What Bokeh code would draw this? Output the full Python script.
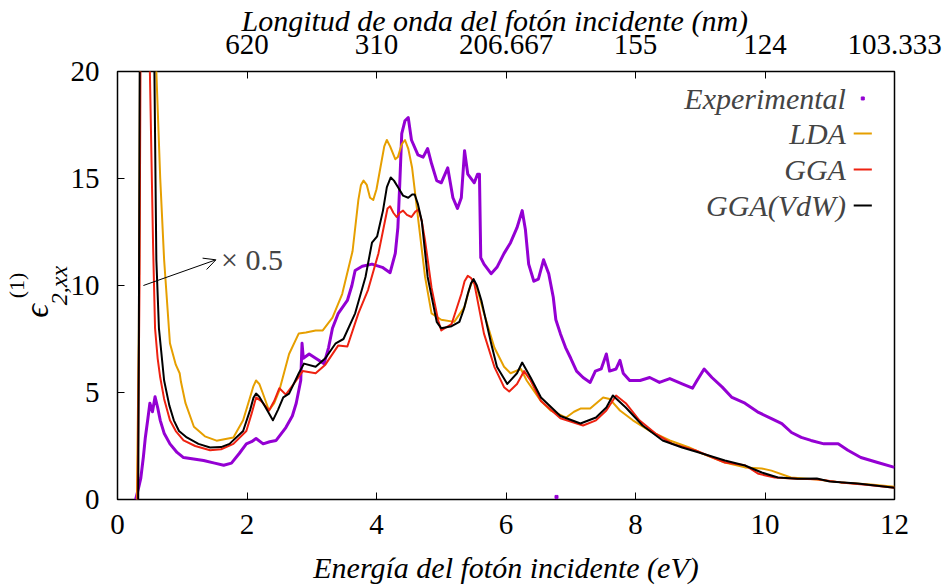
from bokeh.plotting import figure
from bokeh.models import (Range1d, LinearAxis, FixedTicker, Label, Arrow, OpenHead)
from bokeh.embed import file_html
from bokeh.resources import INLINE

# --- photon energy (eV) vs epsilon_2,xx ---------------------------------
exp_x = [0.28, 0.33, 0.36, 0.40, 0.43, 0.47, 0.50, 0.54, 0.58, 0.62,
         0.66, 0.72, 0.81, 0.92, 1.02, 1.15, 1.33, 1.5, 1.64, 1.76,
         1.88, 1.99, 2.07, 2.14, 2.25, 2.35, 2.45, 2.6, 2.7, 2.76,
         2.83, 2.85, 2.87, 2.96, 3.06, 3.19, 3.26, 3.32, 3.41, 3.55,
         3.62, 3.67, 3.78, 3.93, 4.09, 4.21, 4.29, 4.33, 4.36, 4.39,
         4.44, 4.49, 4.54, 4.64, 4.72, 4.79, 4.85, 4.93, 5.0, 5.1,
         5.18, 5.25, 5.31, 5.36, 5.41, 5.51, 5.56, 5.59, 5.61, 5.66,
         5.77, 5.86, 5.97, 6.07, 6.17, 6.25, 6.3, 6.35, 6.43, 6.5,
         6.58, 6.66, 6.73, 6.77, 6.84, 6.92, 7.0, 7.09, 7.19, 7.3,
         7.38, 7.47, 7.55, 7.6, 7.7, 7.76, 7.81, 7.91, 8.07, 8.22,
         8.37, 8.53, 8.72, 8.88, 8.95, 9.06, 9.18, 9.34, 9.49, 9.69,
         9.9, 10.1, 10.26, 10.41, 10.56, 10.71, 10.91, 11.13, 11.28, 11.48,
         11.74, 12.0]
exp_y = [0, 0.6, 1.0, 2.0, 2.9, 3.8, 4.5, 4.1, 4.8, 4.3,
         3.7, 3.1, 2.6, 2.2, 1.96, 1.9, 1.82, 1.7, 1.6, 1.7,
         2.15, 2.6, 2.7, 2.85, 2.6, 2.7, 2.76, 3.36, 3.9, 4.5,
         5.56, 7.3, 6.6, 6.8, 6.6, 6.35, 7.1, 8.0, 8.7, 9.3,
         10.0, 10.7, 10.9, 11.0, 10.85, 10.6, 11.5, 12.7, 14.8, 17.1,
         17.7, 17.85, 16.8, 16.1, 16.0, 16.4, 15.7, 14.9, 14.8, 15.5,
         14.1, 13.6, 14.1, 16.3, 15.2, 14.8, 15.2, 15.2, 11.3, 11.0,
         10.55, 10.85, 11.5, 12.0, 12.7, 13.5, 12.6, 11.0, 10.2, 10.3,
         11.2, 10.55, 9.45, 8.4, 7.75, 7.1, 6.6, 6.0, 5.7, 5.47,
         6.0, 6.1, 6.8, 6.0, 6.1, 6.5, 5.9, 5.56, 5.56, 5.7,
         5.47, 5.65, 5.4, 5.2, 5.56, 6.1, 5.7, 5.25, 4.77, 4.5,
         4.07, 3.78, 3.55, 3.13, 2.9, 2.76, 2.6, 2.6, 2.3, 1.96,
         1.73, 1.5]
exp_stray_x = [6.78]
exp_stray_y = [0.12]

lda_x = [0.30, 0.33, 0.35, 0.38, 0.45, 0.55, 0.60, 0.66, 0.72, 0.81,
         0.90, 0.96, 0.98, 1.05, 1.18, 1.35, 1.53, 1.79, 1.94, 2.05,
         2.10, 2.14, 2.19, 2.24, 2.34, 2.42, 2.5, 2.65, 2.8, 2.91,
         3.06, 3.17, 3.32, 3.47, 3.63, 3.72, 3.76, 3.80, 3.85, 3.90,
         3.95, 4.0, 4.06, 4.12, 4.16, 4.21, 4.29, 4.33, 4.39, 4.44,
         4.49, 4.55, 4.64, 4.75, 4.85, 5.0, 5.2, 5.36, 5.43, 5.48,
         5.52, 5.56, 5.66, 5.82, 5.97, 6.07, 6.23, 6.32, 6.54, 6.69,
         6.93, 7.05, 7.15, 7.3, 7.5, 7.6, 7.76, 7.96, 8.22, 8.53,
         8.83, 9.03, 9.38, 9.69, 9.95, 10.1, 10.4, 10.8, 11.17, 11.63,
         12.0]
lda_y = [0, 8, 22, 40, 40, 28, 20, 15, 11.2, 7.3,
         6.3, 5.9, 5.5, 4.5, 3.4, 2.95, 2.75, 2.9, 3.7, 4.8,
         5.3, 5.56, 5.4, 5.0, 4.16, 4.5, 5.1, 6.8, 7.76, 7.8,
         7.9, 7.9, 8.5, 9.6, 11.6, 14.0, 14.7, 14.9, 14.7, 14.1,
         14.0, 14.5, 15.5, 16.5, 16.8, 16.5, 15.9, 16.0, 16.6, 16.8,
         16.4, 15.5, 13.2, 10.4, 8.7, 8.4, 8.3, 9.0, 9.8, 10.2,
         10.1, 9.8, 8.7, 7.1, 6.2, 5.9, 6.1, 5.56, 4.6, 4.16,
         3.83, 4.1, 4.25, 4.25, 4.77, 4.7, 4.16, 3.7, 3.2, 2.76,
         2.43, 2.15, 1.73, 1.5, 1.45, 1.35, 1.03, 0.93, 0.8, 0.7,
         0.6]

gga_x = [0.31, 0.34, 0.36, 0.40, 0.45, 0.50, 0.55, 0.58, 0.62, 0.66,
         0.72, 0.81, 0.90, 1.02, 1.2, 1.43, 1.6, 1.79, 1.99, 2.07,
         2.14, 2.22, 2.34, 2.42, 2.5, 2.6, 2.76, 2.86, 3.06, 3.21,
         3.41, 3.55, 3.72, 3.87, 4.03, 4.13, 4.17, 4.21, 4.26, 4.31,
         4.36, 4.41, 4.47, 4.54, 4.6, 4.65, 4.70, 4.75, 4.85, 4.95,
         5.0, 5.16, 5.31, 5.36, 5.41, 5.46, 5.51, 5.58, 5.66, 5.82,
         5.97, 6.05, 6.17, 6.28, 6.38, 6.54, 6.84, 7.19, 7.39, 7.55,
         7.7, 7.85, 8.06, 8.31, 8.57, 8.92, 9.38, 9.69, 9.9, 10.15,
         10.5, 10.8, 11.17, 11.6, 12.0]
gga_y = [0, 10, 24, 35, 32, 20, 11.8, 8.0, 6.6, 5.7,
         4.7, 3.7, 3.2, 2.76, 2.5, 2.3, 2.35, 2.6, 3.2, 4.0,
         4.77, 4.6, 4.16, 4.6, 5.2, 4.9, 5.56, 6.0, 5.9, 6.3,
         7.2, 7.15, 8.7, 9.8, 11.5, 13.0, 13.6, 13.7, 13.4, 13.2,
         13.4, 13.5, 13.3, 13.2, 13.45, 13.55, 13.0, 12.1, 9.9, 8.4,
         7.9, 8.2, 9.6, 10.2, 10.45, 10.35, 10.1, 9.0, 7.75, 6.2,
         5.25, 5.05, 5.4, 6.0, 5.56, 4.6, 3.8, 3.46, 3.7, 4.16,
         4.86, 4.5, 3.7, 3.08, 2.6, 2.3, 1.73, 1.6, 1.2, 1.03,
         0.97, 0.95, 0.8, 0.68, 0.55]

vdw_x = [0.32, 0.33, 0.345, 0.37, 0.45, 0.52, 0.57, 0.60, 0.64, 0.72,
         0.80, 0.87, 0.95, 1.07, 1.25, 1.43, 1.6, 1.73, 1.94, 2.05,
         2.10, 2.14, 2.19, 2.25, 2.4, 2.48, 2.56, 2.65, 2.8, 2.88,
         3.06, 3.21, 3.37, 3.49, 3.67, 3.83, 3.93, 4.01, 4.1, 4.16,
         4.22, 4.27, 4.33, 4.41, 4.49, 4.55, 4.59, 4.64, 4.7, 4.79,
         4.93, 5.0, 5.16, 5.28, 5.35, 5.41, 5.46, 5.5, 5.55, 5.62,
         5.77, 5.86, 6.02, 6.17, 6.25, 6.38, 6.54, 6.84, 7.15, 7.39,
         7.55, 7.65, 7.85, 8.11, 8.42, 8.72, 8.98, 9.38, 9.69, 9.95,
         10.2, 10.5, 10.8, 11.0, 11.43, 12.0]
vdw_y = [0, 8, 22, 40, 42, 30, 20, 11.2, 8.0, 5.56,
         4.4, 3.7, 3.2, 2.9, 2.6, 2.43, 2.45, 2.6, 3.2, 4.2,
         4.75, 4.95, 4.8, 4.5, 3.7, 4.2, 4.77, 4.95, 5.9, 6.35,
         6.2, 6.6, 7.3, 7.5, 8.7, 10.4, 12.0, 12.3, 13.5, 14.6,
         15.05, 14.9, 14.6, 14.2, 14.1, 14.25, 14.25, 13.8, 13.0, 10.4,
         8.3, 8.0, 8.1, 8.3, 8.9, 9.6, 10.1, 10.3, 10.0, 9.3,
         7.3, 6.2, 5.4, 5.9, 6.4, 5.7, 4.77, 3.9, 3.55, 3.83,
         4.3, 4.86, 4.3, 3.46, 2.76, 2.43, 2.2, 1.82, 1.59, 1.26,
         1.03, 0.97, 0.98, 0.84, 0.75, 0.55]

# axis ticks
energy_ticks = [0, 2, 4, 6, 8, 10, 12]
eps_ticks = [0, 5, 10, 15, 20]
wavelength_ticks = [2, 4, 6, 8, 10, 12]
wavelength_labels = ["620", "310", "206.667", "155", "124", "103.333"]

series_names = ["Experimental", "LDA", "GGA", "GGA(VdW)"]

for a, b in [(exp_x, exp_y), (lda_x, lda_y), (gga_x, gga_y), (vdw_x, vdw_y)]:
    assert len(a) == len(b)

PURPLE = "#9400D3"
ORANGE = "#E69F00"
RED = "#EE2211"
BLACK = "#000000"
SERIF = "Liberation Serif"
NB = "\u00a0"

p = figure(width=942, height=587, output_backend="svg", toolbar_location=None,
           x_range=Range1d(0, 12), y_range=Range1d(0, 20),
           min_border_left=110, min_border_right=48,
           min_border_top=71, min_border_bottom=88)
p.background_fill_color = "white"
p.border_fill_color = "white"
p.grid.visible = False
p.outline_line_color = "black"
p.outline_line_width = 1.5
p.outline_line_alpha = 1.0


def style_ticks(ax):
    ax.major_tick_in = 7
    ax.major_tick_out = 0
    ax.minor_tick_line_color = None
    ax.axis_line_color = None
    ax.major_tick_line_color = "black"
    ax.major_label_text_font = SERIF
    ax.major_label_text_font_size = "29px"
    ax.major_label_text_color = "black"


# bottom axis: energy
xb = p.xaxis[0]
style_ticks(xb)
xb.ticker = FixedTicker(ticks=energy_ticks)
xb.major_label_standoff = 15
xb.axis_label = "Energía del fotón incidente (eV)"
xb.axis_label_text_font = SERIF
xb.axis_label_text_font_style = "italic"
xb.axis_label_text_font_size = "30px"
xb.axis_label_text_color = "black"
xb.axis_label_standoff = 14

# top axis: wavelength (nm) = 1240 / E(eV)
p.extra_x_ranges = {"wl": Range1d(0, 12)}
top = LinearAxis(x_range_name="wl", ticker=FixedTicker(ticks=wavelength_ticks),
                 major_label_overrides={t: s for t, s in zip(wavelength_ticks, wavelength_labels)})
style_ticks(top)
top.major_label_standoff = 18
top.axis_label = "Longitud de onda del fotón incidente (nm)" + NB * 3
top.axis_label_text_font = SERIF
top.axis_label_text_font_style = "italic"
top.axis_label_text_font_size = "30px"
top.axis_label_text_color = "black"
top.axis_label_standoff = -5
p.add_layout(top, "above")

# left axis: epsilon, title split into subscript / symbol / superscript
yl = p.yaxis[0]
style_ticks(yl)
yl.ticker = FixedTicker(ticks=eps_ticks)
yl.major_label_standoff = 18
yl.axis_label = "2,xx"
yl.axis_label_text_font = SERIF
yl.axis_label_text_font_style = "italic"
yl.axis_label_text_font_size = "24px"
yl.axis_label_text_color = "black"
yl.axis_label_standoff = -4


def title_only_axis(text, size, style, standoff):
    ax = LinearAxis(ticker=FixedTicker(ticks=[]), axis_line_color=None,
                    major_tick_line_color=None, minor_tick_line_color=None,
                    major_tick_in=0, major_tick_out=0, major_label_standoff=0,
                    axis_label=text, axis_label_text_font=SERIF,
                    axis_label_text_font_style=style,
                    axis_label_text_font_size=size,
                    axis_label_text_color="black",
                    axis_label_standoff=standoff)
    p.add_layout(ax, "left")


title_only_axis("ϵ" + NB * 6, "34px", "italic", -12)
title_only_axis("(1)", "22px", "normal", -14)

# curves
p.line(exp_x, exp_y, line_color=PURPLE, line_width=3, line_join="round")
p.scatter(exp_stray_x, exp_stray_y, marker="square", size=3, color=PURPLE)
p.line(lda_x, lda_y, line_color=ORANGE, line_width=2, line_join="round")
p.line(gga_x, gga_y, line_color=RED, line_width=2, line_join="round")
p.line(vdw_x, vdw_y, line_color=BLACK, line_width=2, line_join="round")

# legend (text right-aligned, sample on the right)
leg_rows = [18.74, 17.10, 15.42, 13.74]
leg_text_x = 11.25
leg_x0, leg_x1 = 11.37, 11.65
for name, yy in zip(series_names, leg_rows):
    p.add_layout(Label(x=leg_text_x, y=yy, text=name, text_align="right",
                       text_baseline="middle", text_font=SERIF,
                       text_font_style="italic", text_font_size="30px"))
p.scatter([(leg_x0 + leg_x1) / 2], [leg_rows[0]], marker="square", size=3, color=PURPLE)
p.segment([leg_x0] * 3, leg_rows[1:], [leg_x1] * 3, leg_rows[1:],
          line_color=[ORANGE, RED, BLACK], line_width=2)

# scale note
p.add_layout(Arrow(end=OpenHead(size=12, line_width=1, line_color="black"),
                   x_start=0.40, y_start=10.0, x_end=1.52, y_end=11.2,
                   line_width=1, line_color="black"))
p.add_layout(Label(x=1.6, y=11.2, text="× 0.5", text_baseline="middle",
                   text_font=SERIF, text_font_size="30px"))

open("out.html", "w").write(file_html(p, INLINE))
